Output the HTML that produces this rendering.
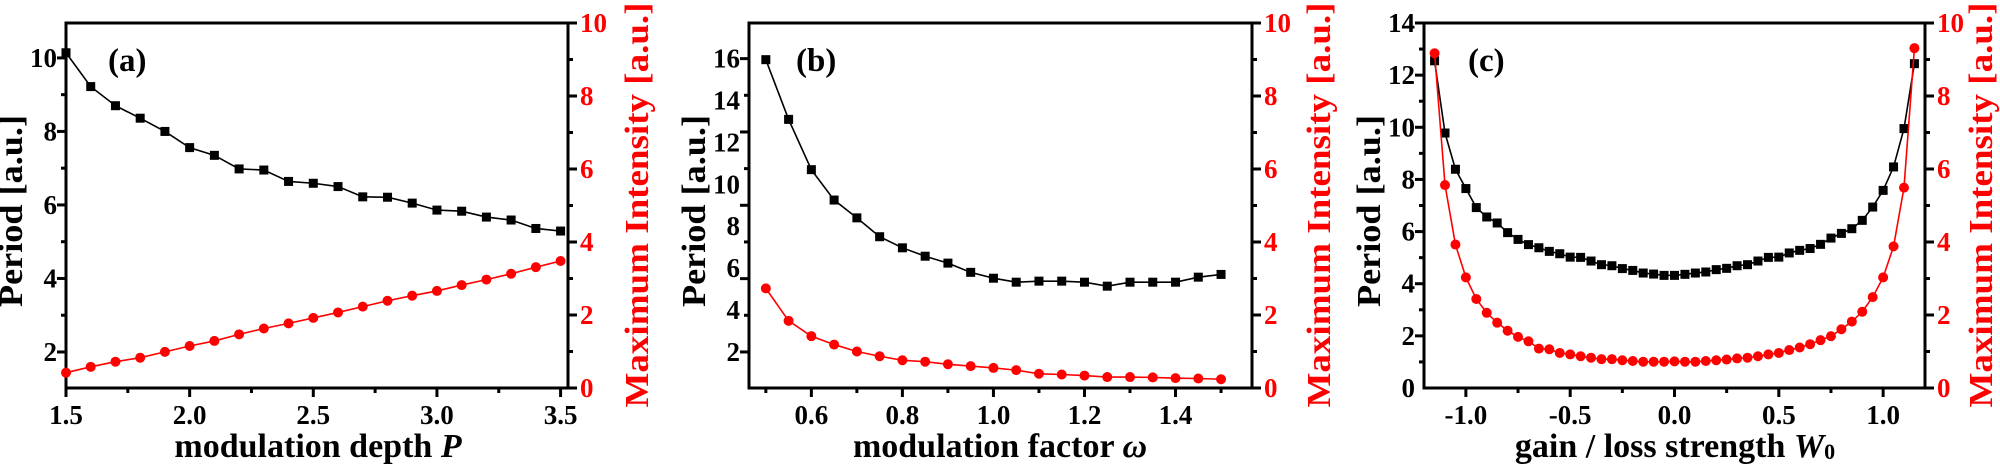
<!DOCTYPE html>
<html><head><meta charset="utf-8">
<style>
html,body{margin:0;padding:0;background:#fff;width:2000px;height:474px;overflow:hidden}
svg text{font-family:"Liberation Serif",serif;font-weight:bold}
</style></head>
<body>
<svg id="fig" width="2000" height="474" viewBox="0 0 2000 474" xmlns="http://www.w3.org/2000/svg"></svg>
<script>
// ---- Panel (a) data ----
const aX = [1.5,1.6,1.7,1.8,1.9,2.0,2.1,2.2,2.3,2.4,2.5,2.6,2.7,2.8,2.9,3.0,3.1,3.2,3.3,3.4,3.5];
const aPeriod = [10.14,9.22,8.7,8.36,8.0,7.56,7.35,6.98,6.95,6.64,6.59,6.5,6.22,6.21,6.05,5.86,5.83,5.67,5.59,5.36,5.29];
const aIntensity = [0.42,0.58,0.72,0.83,0.99,1.15,1.29,1.47,1.63,1.77,1.92,2.07,2.23,2.39,2.53,2.66,2.82,2.97,3.13,3.31,3.48];
const aXTicks = ["1.5","2.0","2.5","3.0","3.5"];
const aYTicks = ["2","4","6","8","10"];
// ---- Panel (b) data ----
const bX = [0.5,0.55,0.6,0.65,0.7,0.75,0.8,0.85,0.9,0.95,1.0,1.05,1.1,1.15,1.2,1.25,1.3,1.35,1.4,1.45,1.5];
const bPeriod = [15.95,13.1,10.7,9.25,8.4,7.5,6.97,6.57,6.24,5.8,5.52,5.33,5.38,5.38,5.33,5.14,5.33,5.33,5.33,5.57,5.7];
const bIntensity = [2.73,1.84,1.42,1.19,1.0,0.87,0.76,0.72,0.65,0.6,0.55,0.49,0.39,0.37,0.34,0.3,0.3,0.29,0.27,0.26,0.24];
const bXTicks = ["0.6","0.8","1.0","1.2","1.4"];
const bYTicks = ["2","4","6","8","10","12","14","16"];
// ---- Panel (c) data ----
const cX = [-1.15,-1.1,-1.05,-1.0,-0.95,-0.9,-0.85,-0.8,-0.75,-0.7,-0.65,-0.6,-0.55,-0.5,-0.45,-0.4,-0.35,-0.3,-0.25,-0.2,-0.15,-0.1,-0.05,0,0.05,0.1,0.15,0.2,0.25,0.3,0.35,0.4,0.45,0.5,0.55,0.6,0.65,0.7,0.75,0.8,0.85,0.9,0.95,1.0,1.05,1.1,1.15];
const cPeriod = [12.55,9.78,8.39,7.65,6.92,6.56,6.33,5.96,5.7,5.5,5.38,5.24,5.15,5.02,5.01,4.87,4.73,4.69,4.58,4.51,4.41,4.37,4.32,4.32,4.36,4.41,4.45,4.54,4.59,4.69,4.73,4.87,5.01,5.02,5.18,5.28,5.35,5.51,5.75,5.93,6.11,6.43,6.94,7.58,8.48,9.95,12.44];
const cIntensity = [9.17,5.56,3.93,3.03,2.44,2.06,1.79,1.57,1.4,1.28,1.08,1.06,0.96,0.92,0.87,0.83,0.79,0.79,0.76,0.74,0.72,0.72,0.72,0.73,0.72,0.72,0.74,0.76,0.78,0.81,0.83,0.87,0.92,0.96,1.04,1.11,1.2,1.31,1.42,1.61,1.82,2.09,2.49,3.03,3.88,5.49,9.31];
const cXTicks = ["-1.0","-0.5","0.0","0.5","1.0"];
const cYTicks = ["0","2","4","6","8","10","12","14"];
const rightTicks = ["0","2","4","6","8","10"];

const NS = "http://www.w3.org/2000/svg";
const svg = document.getElementById('fig');
function mk(tag, attrs, parent){
  const e = document.createElementNS(NS, tag);
  for (const k in attrs) e.setAttribute(k, attrs[k]);
  (parent||svg).appendChild(e);
  return e;
}
const TOP = 23, BOT = 388;

function panel(cfg){
  const g = mk('g', {});
  
  
  const sx = v => cfg.L + (v - cfg.xmin) / (cfg.xmax - cfg.xmin) * (cfg.R - cfg.L);
  const syL = v => BOT - (v - cfg.ymin) / (cfg.ymax - cfg.ymin) * (BOT - TOP);
  const syR = v => BOT - v / 10 * (BOT - TOP);
  const fr = mk('rect', {x:cfg.L, y:TOP, width:cfg.R-cfg.L, height:BOT-TOP, fill:'none', stroke:'#000', 'stroke-width':3}, g);
  
  
  for (let v = cfg.xTickStart; v <= cfg.xmax + 1e-9; v += cfg.xMinorStep){
    const major = Math.abs(Math.round((v - cfg.xMajorStart)/cfg.xMajorStep)*cfg.xMajorStep - (v - cfg.xMajorStart)) < 1e-6;
    mk('line', {x1:sx(v), x2:sx(v), y1:BOT, y2:BOT + (major?9:5), stroke:'#000', 'stroke-width':3}, g);
  }
  cfg.xTicks.forEach(t => {
    const tx = mk('text', {x:sx(parseFloat(t)), y:424, 'text-anchor':'middle', 'font-size':27, fill:'#000'}, g);
    tx.textContent = t;
    
    
  });
  cfg.yTickVals.forEach((v,i) => {
    mk('line', {x1:cfg.L-(i%2===0?9:5), x2:cfg.L, y1:cfg.yTickY(v), y2:cfg.yTickY(v), stroke:'#000', 'stroke-width':3}, g);
  });
  cfg.yTicks.forEach(t => {
    const ty = mk('text', {x:cfg.L-9, y:syL(parseFloat(t))+9, 'text-anchor':'end', 'font-size':27, fill:'#000'}, g);
    ty.textContent = t;
    
    
  });
  for (let v = 0; v <= 10; v += 1){
    mk('line', {x1:cfg.R, x2:cfg.R+(v%2===0?9:5), y1:syR(v), y2:syR(v), stroke:'#000', 'stroke-width':3}, g);
  }
  rightTicks.forEach(t => {
    const ty = mk('text', {x:cfg.R+12, y:syR(parseFloat(t))+9, 'text-anchor':'start', 'font-size':27, fill:'#ff0000'}, g);
    ty.textContent = t;
    
    
  });
  const pb = cfg.x.map((x,i)=>sx(x)+','+syL(cfg.period[i])).join(' ');
  const lb = mk('polyline', {points:pb, fill:'none', stroke:'#000', 'stroke-width':1.6}, g);
  
  
  cfg.x.forEach((x,i)=>{
    const r = mk('rect', {x:sx(x)-4.5, y:syL(cfg.period[i])-4.5, width:9, height:9, fill:'#000'}, g);
    
    
  });
  const pr = cfg.x.map((x,i)=>sx(x)+','+syR(cfg.inten[i])).join(' ');
  const lr = mk('polyline', {points:pr, fill:'none', stroke:'#ff0000', 'stroke-width':1.6}, g);
  
  
  cfg.x.forEach((x,i)=>{
    const c = mk('circle', {cx:sx(x), cy:syR(cfg.inten[i]), r:5, fill:'#ff0000'}, g);
    
    
  });
  const xt = mk('text', {x:cfg.xTitleX, y:457, 'text-anchor':'middle', 'font-size':34, fill:'#000'}, g);
  xt.innerHTML = cfg.xTitle;
  
  
  const lt = mk('text', {x:0, y:0, 'text-anchor':'middle', 'font-size':34, fill:'#000', transform:`translate(${cfg.L-44},211) rotate(-90)`, textLength:192, lengthAdjust:'spacingAndGlyphs'}, g);
  lt.textContent = 'Period [a.u.]';
  
  
  const rt = mk('text', {x:0, y:0, 'text-anchor':'middle', 'font-size':34, fill:'#ff0000', transform:`translate(${cfg.R+cfg.rOff},205) rotate(-90)`, textLength:405, lengthAdjust:'spacingAndGlyphs'}, g);
  rt.textContent = 'Maximum Intensity [a.u.]';
  
  
  const pl = mk('text', {x:cfg.labelX, y:71, 'font-size':33, fill:'#000'}, g);
  pl.textContent = cfg.label;
  
  
}

(function(){
  const ymin=1.02, ymax=10.95;
  const syL = v => BOT - (v - ymin)/(ymax-ymin)*(BOT-TOP);
  const vals=[]; for(let v=2; v<=10; v++) vals.push(v);
  panel({name:'panel-a', L:66, R:568, xmin:1.5, xmax:3.53, ymin, ymax, rOff:80,
    xTickStart:1.5, xMinorStep:0.25, xMajorStart:1.5, xMajorStep:0.5,
    xTicks:aXTicks, yTicks:aYTicks, yTickVals:vals, yTickY:syL,
    x:aX, period:aPeriod, inten:aIntensity,
    xTitle:'modulation depth <tspan font-style="italic">P</tspan>', xTitleX:318, label:'(a)', labelX:108});
})();
(function(){
  const ymin=0.28, ymax=17.7;
  const syL = v => BOT - (v - ymin)/(ymax-ymin)*(BOT-TOP);
  const vals=[]; for(let k=0;k<9;k++) vals.push(16-1.75*k);
  panel({name:'panel-b', L:749, R:1252, xmin:0.463, xmax:1.568, ymin, ymax, rOff:78,
    xTickStart:0.5, xMinorStep:0.1, xMajorStart:0.6, xMajorStep:0.2,
    xTicks:bXTicks, yTicks:bYTicks, yTickVals:vals, yTickY:syL,
    x:bX, period:bPeriod, inten:bIntensity,
    xTitle:'modulation factor <tspan font-style="italic">ω</tspan>', xTitleX:1000, label:'(b)', labelX:796});
})();
(function(){
  const ymin=0, ymax=14;
  const syL = v => BOT - (v - ymin)/(ymax-ymin)*(BOT-TOP);
  const vals=[]; for(let v=14; v>=1; v--) vals.push(v);
  panel({name:'panel-c', L:1424, R:1925, xmin:-1.2007, xmax:1.2007, ymin, ymax, rOff:67,
    xTickStart:-1.0, xMinorStep:0.25, xMajorStart:-1.0, xMajorStep:0.5,
    xTicks:cXTicks, yTicks:cYTicks, yTickVals:vals, yTickY:syL,
    x:cX, period:cPeriod, inten:cIntensity,
    xTitle:'gain / loss strength <tspan font-style="italic">W</tspan><tspan font-size="22" dy="2">0</tspan>', xTitleX:1675, label:'(c)', labelX:1468});
})();
</script>
</body></html>
